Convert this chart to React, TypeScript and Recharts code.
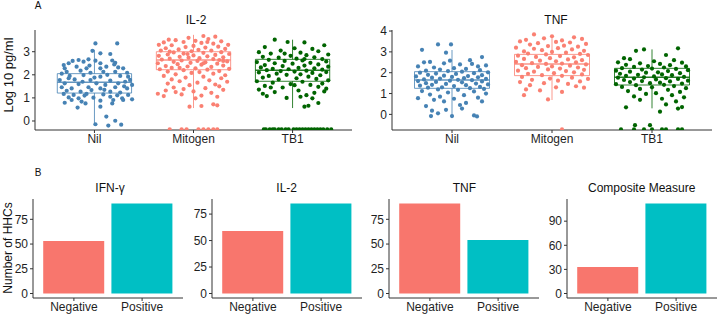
import React from 'react';
import {
  ComposedChart,
  Scatter,
  XAxis,
  YAxis,
  ReferenceArea,
  ReferenceLine,
  BarChart,
  Bar,
  Cell
} from 'recharts';

// ---- panel A data: [jitter offset, log10 pg/ml] ----
const stimCats = ['Nil', 'Mitogen', 'TB1'];

const il2Nil: [number, number][] = [
  [0.01, 3.36], [0.23, 3.36], [-0.02, 3.04], [0.06, 2.93], [0.16, 2.9], [-0.22, 2.6], [-0.16, 2.64],
  [-0.11, 2.57], [-0.06, 2.67], [0.01, 2.61], [-0.26, 2.5], [-0.31, 2.42], [0.21, 2.52], [0.06, 2.5],
  [-0.3, 2.28], [-0.18, 2.35], [-0.08, 2.28], [0.06, 2.28], [0.12, 2.35], [0.24, 2.32], [0.29, 2.28],
  [-0.28, 2.13], [-0.14, 2.18], [-0.04, 2.09], [0.09, 2.13], [0.21, 2.13], [0.33, 2.09], [-0.25, 1.95],
  [-0.11, 1.99], [0.06, 1.92], [0.26, 1.95], [0.34, 1.92], [-0.35, 1.77], [-0.2, 1.8], [-0.04, 1.77],
  [0.16, 1.75], [0.31, 1.7], [-0.3, 1.63], [-0.16, 1.6], [0.02, 1.63], [0.11, 1.56], [0.24, 1.63],
  [0.38, 1.56], [-0.33, 1.46], [-0.23, 1.41], [-0.06, 1.46], [0.06, 1.41], [0.21, 1.46], [0.33, 1.41],
  [-0.28, 1.31], [-0.14, 1.27], [-0.03, 1.34], [0.16, 1.27], [0.26, 1.23], [-0.31, 1.17], [-0.21, 1.13],
  [-0.08, 1.17], [0.09, 1.15], [0.23, 1.11], [0.34, 1.13], [-0.26, 1.02], [-0.16, 0.98], [-0.01, 1.01],
  [0.16, 1.05], [0.28, 0.98], [-0.23, 0.91], [-0.13, 0.84], [0.06, 0.88], [0.19, 0.91], [0.29, 0.91],
  [0.38, 0.94], [-0.3, 0.79], [-0.09, 0.76], [0.18, 0.76], [-0.17, 0.58], [0.06, 0.62], [0.12, 0.19],
  [0.21, 0.01], [0.01, -0.14], [0.14, -0.2], [0.27, -0.16], [-0.12, 1.7], [0.0, 1.88], [0.13, 2.0],
  [-0.33, 2.05], [0.36, 1.78], [-0.05, 2.4], [0.18, 2.62], [-0.26, 1.85], [0.3, 1.5], [0.1, 1.35],
  [-0.1, 1.1], [0.2, 2.45]
];

const il2Mitogen: [number, number][] = [
  [0.1, 3.68], [0.22, 3.65], [-0.05, 3.6], [0.15, 3.55], [-0.25, 3.52], [-0.18, 3.5], [0.02, 3.47],
  [0.28, 3.45], [-0.3, 3.4], [-0.1, 3.42], [0.08, 3.38], [0.2, 3.35], [0.35, 3.3], [-0.35, 3.3],
  [-0.22, 3.28], [0.0, 3.25], [-0.08, 3.2], [0.25, 3.22], [0.12, 3.18], [-0.28, 3.15], [0.32, 3.12],
  [-0.15, 3.1], [0.05, 3.08], [0.18, 3.05], [-0.33, 3.05], [-0.02, 3.02], [0.28, 2.98], [-0.2, 2.97],
  [0.1, 2.95], [-0.1, 2.92], [0.36, 2.9], [-0.26, 2.88], [0.22, 2.86], [0.0, 2.84], [-0.35, 2.82],
  [0.14, 2.8], [-0.14, 2.78], [0.3, 2.76], [-0.05, 2.74], [0.06, 2.72], [-0.24, 2.7], [0.2, 2.68],
  [-0.32, 2.66], [0.26, 2.64], [-0.12, 2.62], [0.04, 2.6], [0.34, 2.58], [-0.2, 2.56], [0.12, 2.54],
  [-0.03, 2.52], [-0.36, 2.5], [0.24, 2.48], [-0.16, 2.46], [0.08, 2.44], [0.3, 2.4], [-0.28, 2.38],
  [-0.06, 2.36], [0.18, 2.34], [-0.22, 2.3], [0.02, 2.28], [0.36, 2.26], [-0.34, 2.24], [0.14, 2.22],
  [-0.1, 2.2], [0.26, 2.16], [-0.26, 2.14], [0.06, 2.12], [-0.02, 2.08], [0.2, 2.05], [-0.18, 2.02],
  [0.32, 1.98], [-0.3, 1.95], [0.1, 1.92], [-0.08, 1.88], [0.28, 1.85], [-0.22, 1.8], [0.16, 1.76],
  [-0.14, 1.72], [0.34, 1.7], [0.04, 1.66], [-0.26, 1.62], [0.22, 1.58], [-0.04, 1.55], [0.26, 1.5],
  [-0.2, 1.45], [0.12, 1.42], [-0.1, 1.38], [0.3, 1.35], [-0.28, 1.32], [0.0, 1.28], [-0.18, 1.25],
  [0.18, 1.22], [-0.36, 1.18], [-0.12, 1.15], [0.08, 1.1], [-0.3, 1.08], [0.24, 1.05], [0.02, 0.98],
  [0.2, 0.72], [0.24, 0.68], [-0.04, 0.62], [0.08, 0.65], [-0.24, 3.0], [0.14, 3.42], [-0.14, 2.3],
  [0.3, 2.6], [-0.06, 2.9], [0.1, 2.5],
  [-0.24, -0.36], [-0.12, -0.36], [-0.07, -0.36], [0.05, -0.36], [0.1, -0.36], [0.15, -0.36],
  [0.2, -0.36], [0.24, -0.36]
];

const il2Tb1: [number, number][] = [
  [-0.18, 3.52], [-0.05, 3.42], [0.12, 3.4], [0.32, 3.28], [-0.28, 3.2], [0.02, 3.15], [0.2, 3.12],
  [-0.12, 3.05], [0.26, 3.02], [-0.34, 2.98], [0.08, 2.96], [-0.22, 2.92], [0.36, 2.88], [0.14, 2.85],
  [-0.02, 2.82], [-0.3, 2.78], [0.22, 2.76], [-0.14, 2.74], [0.04, 2.7], [0.3, 2.68], [-0.24, 2.65],
  [0.1, 2.62], [-0.08, 2.6], [0.34, 2.58], [-0.36, 2.55], [0.18, 2.52], [-0.18, 2.5], [0.0, 2.48],
  [0.26, 2.45], [-0.28, 2.42], [0.12, 2.4], [-0.1, 2.38], [0.36, 2.35], [-0.32, 2.32], [0.06, 2.3],
  [0.22, 2.28], [-0.2, 2.26], [-0.04, 2.24], [0.3, 2.22], [-0.26, 2.2], [0.14, 2.18], [-0.12, 2.16],
  [0.02, 2.14], [0.34, 2.12], [-0.34, 2.1], [0.2, 2.08], [-0.16, 2.05], [0.08, 2.02], [-0.06, 2.0],
  [0.28, 1.98], [-0.24, 1.95], [0.16, 1.92], [-0.3, 1.88], [0.04, 1.85], [0.24, 1.82], [-0.14, 1.8],
  [0.36, 1.76], [-0.36, 1.72], [0.1, 1.7], [-0.2, 1.66], [0.3, 1.62], [-0.02, 1.6], [0.18, 1.56],
  [-0.28, 1.52], [0.26, 1.48], [-0.1, 1.45], [0.34, 1.4], [-0.34, 1.36], [0.06, 1.32], [0.32, 1.28],
  [-0.18, 1.25], [0.22, 1.22], [-0.3, 1.18], [0.14, 1.12], [-0.26, 1.08], [0.08, 1.05], [-0.06, 1.0],
  [0.2, 0.98], [0.26, 0.78], [0.12, 0.62], [0.16, 0.66], [-0.22, 1.45], [0.02, 1.55], [0.12, 2.68],
  [-0.08, 2.92],
  [-0.29, -0.36], [-0.27, -0.36], [-0.23, -0.36], [-0.2, -0.36], [-0.18, -0.36], [-0.14, -0.36],
  [-0.11, -0.36], [-0.07, -0.36], [-0.04, -0.36], [0.01, -0.36], [0.04, -0.36], [0.07, -0.36],
  [0.1, -0.36], [0.13, -0.36], [0.16, -0.36], [0.19, -0.36], [0.22, -0.36], [0.25, -0.36],
  [0.28, -0.36], [0.31, -0.36], [0.35, -0.36], [0.39, -0.36]
];

const tnfNil: [number, number][] = [
  [-0.14, 3.36], [-0.01, 3.36], [-0.3, 3.1], [-0.06, 2.96], [0.3, 2.75], [-0.28, 2.5], [-0.22, 2.52],
  [-0.08, 2.45], [0.08, 2.4], [0.2, 2.42], [0.26, 2.3], [0.34, 2.35], [-0.34, 2.3], [-0.18, 2.25],
  [0.02, 2.22], [0.14, 2.18], [-0.12, 2.15], [0.28, 2.12], [-0.26, 2.1], [-0.04, 2.08], [0.1, 2.05],
  [0.36, 2.02], [-0.32, 2.0], [0.22, 1.98], [-0.16, 1.96], [0.04, 1.94], [-0.24, 1.9], [0.3, 1.88],
  [-0.08, 1.86], [0.16, 1.84], [-0.36, 1.82], [0.0, 1.8], [0.26, 1.78], [-0.2, 1.76], [0.12, 1.74],
  [-0.12, 1.72], [0.34, 1.7], [-0.28, 1.68], [0.06, 1.66], [0.2, 1.64], [-0.02, 1.62], [-0.34, 1.6],
  [0.3, 1.58], [-0.16, 1.56], [0.1, 1.54], [-0.26, 1.5], [0.24, 1.48], [-0.06, 1.46], [0.36, 1.44],
  [-0.2, 1.42], [0.14, 1.4], [-0.32, 1.38], [0.02, 1.36], [0.28, 1.32], [-0.1, 1.3], [-0.24, 1.28],
  [0.18, 1.26], [0.32, 1.22], [-0.14, 1.2], [0.06, 1.18], [-0.3, 1.12], [0.22, 1.1], [-0.04, 1.05],
  [0.34, 1.0], [-0.22, 0.95], [0.12, 0.92], [-0.34, 0.78], [-0.12, 0.85], [0.26, 0.8], [0.02, 0.75],
  [-0.18, 0.7], [0.3, 0.62], [-0.08, 0.62], [0.14, 0.55], [-0.26, 0.4], [0.08, 0.45], [-0.06, 0.22],
  [-0.2, 0.18], [0.1, 0.28], [-0.14, 0.05], [-0.21, -0.08], [0.0, -0.08], [0.22, -0.05], [0.25, -0.1],
  [0.18, 2.6], [-0.02, 2.58]
];

const tnfMitogen: [number, number][] = [
  [-0.18, 3.84], [0.0, 3.75], [0.22, 3.7], [-0.08, 3.65], [0.3, 3.62], [-0.26, 3.58], [0.1, 3.55],
  [-0.32, 3.5], [0.04, 3.48], [0.18, 3.45], [-0.14, 3.42], [0.34, 3.38], [-0.22, 3.35], [0.12, 3.3],
  [-0.04, 3.28], [0.26, 3.25], [-0.36, 3.2], [0.06, 3.18], [-0.18, 3.15], [0.2, 3.12], [-0.1, 3.08],
  [0.32, 3.05], [-0.28, 3.02], [0.0, 3.0], [0.14, 2.96], [-0.24, 2.92], [0.28, 2.9], [-0.06, 2.88],
  [0.36, 2.85], [-0.34, 2.82], [0.08, 2.8], [-0.16, 2.76], [0.22, 2.74], [-0.02, 2.7], [-0.28, 2.66],
  [0.16, 2.64], [0.3, 2.6], [-0.12, 2.58], [0.04, 2.55], [-0.36, 2.52], [0.24, 2.5], [-0.2, 2.46],
  [0.1, 2.44], [-0.06, 2.42], [0.34, 2.4], [-0.3, 2.36], [0.18, 2.34], [0.0, 2.3], [-0.14, 2.28],
  [0.26, 2.25], [-0.26, 2.22], [0.08, 2.2], [-0.04, 2.16], [0.32, 2.14], [-0.34, 2.1], [0.14, 2.08],
  [-0.18, 2.05], [0.22, 2.02], [0.02, 1.98], [-0.24, 1.95], [0.3, 1.92], [-0.1, 1.88], [0.1, 1.85],
  [-0.3, 1.8], [0.2, 1.76], [-0.02, 1.72], [0.36, 1.7], [-0.2, 1.66], [0.06, 1.62], [0.28, 1.58],
  [-0.32, 1.55], [-0.08, 1.5], [0.16, 1.46], [-0.22, 1.4], [0.24, 1.35], [0.04, 1.3], [0.32, 1.28],
  [-0.26, 1.2], [-0.12, 1.15], [-0.28, 0.92], [-0.04, 0.72], [0.1, 1.08], [0.1, -0.72]
];

const tnfTb1: [number, number][] = [
  [0.26, 3.17], [-0.08, 3.12], [-0.16, 3.05], [-0.28, 2.7], [0.14, 2.85], [0.22, 2.6], [-0.22, 2.65],
  [0.02, 2.55], [-0.34, 2.5], [0.3, 2.48], [-0.12, 2.45], [0.08, 2.42], [-0.26, 2.38], [0.18, 2.36],
  [-0.04, 2.32], [0.34, 2.3], [-0.18, 2.28], [0.12, 2.25], [-0.3, 2.22], [0.0, 2.2], [0.24, 2.18],
  [-0.1, 2.15], [0.36, 2.12], [-0.36, 2.1], [0.16, 2.08], [-0.22, 2.05], [0.06, 2.02], [-0.06, 2.0],
  [0.28, 1.98], [-0.32, 1.95], [0.1, 1.92], [-0.14, 1.9], [0.2, 1.88], [-0.26, 1.85], [0.02, 1.82],
  [0.32, 1.8], [-0.08, 1.78], [-0.34, 1.76], [0.14, 1.74], [-0.18, 1.72], [0.26, 1.7], [0.04, 1.68],
  [-0.28, 1.65], [0.36, 1.62], [-0.1, 1.6], [0.18, 1.58], [-0.22, 1.55], [0.08, 1.52], [-0.02, 1.5],
  [0.3, 1.48], [-0.36, 1.45], [0.12, 1.42], [-0.16, 1.4], [0.22, 1.36], [-0.3, 1.32], [0.0, 1.3],
  [0.34, 1.26], [-0.12, 1.22], [0.16, 1.18], [-0.24, 1.12], [0.28, 1.08], [0.04, 1.02], [-0.06, 0.98],
  [0.2, 0.92], [-0.18, 0.86], [0.32, 0.82], [0.1, 0.75], [-0.12, 0.7], [0.24, 0.62], [0.14, 0.48],
  [-0.26, 0.34], [0.26, 0.28], [0.08, 0.13], [0.3, 0.35],
  [-0.31, -0.72], [-0.18, -0.72], [-0.08, -0.72], [0.0, -0.72], [0.1, -0.72], [0.14, -0.72],
  [0.26, -0.72], [0.3, -0.72], [-0.17, -0.52], [-0.02, -0.52]
];

// box statistics per stimulus (Nil, Mitogen, TB1)
const il2Q1 = [1.21, 2.22, 1.72];
const il2Median = [1.68, 2.64, 2.2];
const il2Q3 = [2.05, 3.0, 2.67];
const il2Low = [-0.2, 0.56, 0.56];
const il2High = [3.08, 3.73, 3.52];

const tnfQ1 = [1.25, 1.86, 1.41];
const tnfMedian = [1.65, 2.42, 1.78];
const tnfQ3 = [2.05, 2.88, 2.21];
const tnfLow = [-0.03, 0.69, 0.29];
const tnfHigh = [3.09, 3.81, 3.12];

// ---- panel B data ----
const outcomeCats = ['Negative', 'Positive'];
const ifngCounts = [53, 91];
const il2Counts = [59, 85];
const tnfCounts = [91, 54];
const compositeCounts = [33, 112];

const FONT = '"Liberation Sans", Arial, Helvetica, sans-serif';
const GROUP_COLORS = ['#4682B4', '#FA8072', '#006400'];
const BAR_COLORS = ['#F8766D', '#00BFC4'];
const AXIS = '#333333';
const TICK = { fill: '#1f1f1f', fontSize: 12 };

const Txt = ({ x, y, size = 12, rotate = false, children }: any) => (
  <div
    style={{
      position: 'absolute',
      left: x,
      top: y,
      fontSize: size,
      lineHeight: `${size}px`,
      whiteSpace: 'nowrap',
      color: '#111',
      transform: `translate(-50%, -50%)${rotate ? ' rotate(-90deg)' : ''}`
    }}
  >
    {children}
  </div>
);

const BoxPanel = ({ left, axisWidth, groups, q1, med, q3, lo, hi, domain, ticks }: any) => (
  <div style={{ position: 'absolute', left, top: 0 }}>
    <ComposedChart width={360} height={150} margin={{ top: 30, right: 8, bottom: 0, left: 0 }}>
      <XAxis
        type="number"
        dataKey="x"
        domain={[0.4, 3.6]}
        ticks={[1, 2, 3]}
        allowDataOverflow
        tickFormatter={(v: number) => stimCats[v - 1]}
        height={20}
        tickSize={3}
        tickMargin={1}
        tick={TICK}
        stroke={AXIS}
      />
      <YAxis
        type="number"
        dataKey="y"
        domain={domain}
        ticks={ticks}
        allowDataOverflow
        width={axisWidth}
        tickSize={3}
        tickMargin={2}
        tick={TICK}
        stroke={AXIS}
      />
      {stimCats.map((c, i) => {
        const x = i + 1;
        const col = GROUP_COLORS[i];
        return (
          <React.Fragment key={c}>
            <ReferenceLine segment={[{ x, y: lo[i] }, { x, y: q1[i] }]} stroke={col} strokeOpacity={0.8} />
            <ReferenceLine segment={[{ x, y: q3[i] }, { x, y: hi[i] }]} stroke={col} strokeOpacity={0.8} />
            <ReferenceArea
              x1={x - 0.375}
              x2={x + 0.375}
              y1={q1[i]}
              y2={q3[i]}
              fill="none"
              fillOpacity={0}
              stroke={col}
              strokeOpacity={0.8}
            />
            <ReferenceLine
              segment={[{ x: x - 0.375, y: med[i] }, { x: x + 0.375, y: med[i] }]}
              stroke={col}
              strokeOpacity={0.85}
              strokeWidth={1.4}
            />
          </React.Fragment>
        );
      })}
      {groups.map((pts: [number, number][], i: number) => (
        <Scatter
          key={stimCats[i]}
          data={pts.map(([o, v]) => ({ x: i + 1 + o, y: v }))}
          dataKey="y"
          isAnimationActive={false}
          shape={(p: any) => <circle cx={p.cx} cy={p.cy} r={2.1} fill={GROUP_COLORS[i]} />}
        />
      ))}
    </ComposedChart>
  </div>
);

const BarPanel = ({ left, counts, ticks }: any) => {
  const data = outcomeCats.map((name, i) => ({ name, n: counts[i] }));
  const max = Math.max(...counts);
  return (
    <div style={{ position: 'absolute', left: left - 30, top: 160 }}>
      <BarChart
        width={184}
        height={155}
        data={data}
        margin={{ top: 39, right: 4, bottom: 0, left: 0 }}
        barCategoryGap="5%"
      >
        <XAxis
          dataKey="name"
          padding={{ left: 6.8, right: 6.8 }}
          height={17}
          tickSize={3}
          tickMargin={1}
          tick={TICK}
          stroke={AXIS}
        />
        <YAxis
          type="number"
          domain={[-0.05 * max, 1.05 * max]}
          ticks={ticks}
          allowDataOverflow
          width={30}
          tickSize={3}
          tickMargin={2}
          tick={TICK}
          stroke={AXIS}
        />
        <Bar dataKey="n" isAnimationActive={false}>
          {data.map((d, i) => (
            <Cell key={d.name} fill={BAR_COLORS[i]} />
          ))}
        </Bar>
      </BarChart>
    </div>
  );
};

export default function App() {
  return (
    <div
      style={{
        position: 'absolute',
        left: 0,
        top: 0,
        width: 720,
        height: 315,
        background: '#fff',
        fontFamily: FONT,
        overflow: 'hidden'
      }}
    >
      <BoxPanel
        left={0}
        axisWidth={35}
        groups={[il2Nil, il2Mitogen, il2Tb1]}
        q1={il2Q1}
        med={il2Median}
        q3={il2Q3}
        lo={il2Low}
        hi={il2High}
        domain={[-0.39, 3.94]}
        ticks={[0, 1, 2, 3]}
      />
      <BoxPanel
        left={360}
        axisWidth={32}
        groups={[tnfNil, tnfMitogen, tnfTb1]}
        q1={tnfQ1}
        med={tnfMedian}
        q3={tnfQ3}
        lo={tnfLow}
        hi={tnfHigh}
        domain={[-0.75, 4.05]}
        ticks={[0, 1, 2, 3, 4]}
      />
      <BarPanel left={33} counts={ifngCounts} ticks={[0, 25, 50, 75]} />
      <BarPanel left={211.7} counts={il2Counts} ticks={[0, 25, 50, 75]} />
      <BarPanel left={389.3} counts={tnfCounts} ticks={[0, 25, 50, 75]} />
      <BarPanel left={566.7} counts={compositeCounts} ticks={[0, 30, 60, 90]} />

      <Txt x={38} y={6} size={10}>A</Txt>
      <Txt x={38} y={173} size={10}>B</Txt>
      <Txt x={196} y={19.5}>IL-2</Txt>
      <Txt x={556} y={19.5}>TNF</Txt>
      <Txt x={8} y={75} size={13} rotate>Log 10 pg/ml</Txt>
      <Txt x={8} y={248} size={12} rotate>Number of HHCs</Txt>
      <Txt x={110} y={188}>IFN-γ</Txt>
      <Txt x={286.7} y={188}>IL-2</Txt>
      <Txt x={464.3} y={188}>TNF</Txt>
      <Txt x={641.7} y={188}>Composite Measure</Txt>
    </div>
  );
}
